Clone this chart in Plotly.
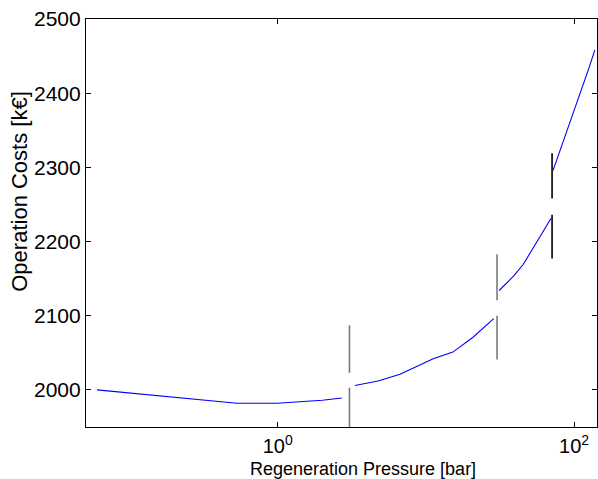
import plotly.graph_objects as go
import math

# Curve segments (pressure in bar, cost in k€) - piecewise with jumps
seg1_x = [0.0604, 0.531, 0.99, 1.42, 2.0, 2.71]
seg1_y = [2000, 1982, 1982, 1984, 1986, 1989]
seg2_x = [3.32, 4.75, 6.69, 11.2, 15.2, 20.8, 28.7]
seg2_y = [2006, 2012, 2021, 2042, 2051, 2071, 2096]
seg3_x = [31.2, 39.3, 45.3, 56.2, 69.8]
seg3_y = [2134, 2154, 2169, 2200, 2231]
seg4_x = [72.1, 76.7, 94, 124, 138]
seg4_y = [2296, 2311, 2360, 2430, 2458]

# Vertical marker lines at jumps: x, (top segment), (bottom segment)
mark_x = [3.05, 30.2, 71.0]
mark_upper = [(2087, 2023), (2183, 2121), (2319, 2258)]
mark_lower = [(2003, 1950), (2100, 2041), (2236, 2177)]
mark_colors = ["#7a7a7a", "#7a7a7a", "#000000"]

x_tickvals = [1, 100]
x_ticktext = ["10<sup>0</sup>", "10<sup>2</sup>"]
y_tickvals = [2000, 2100, 2200, 2300, 2400, 2500]

fig = go.Figure()

for i, xv in enumerate(mark_x):
    for (a, b) in (mark_upper[i], mark_lower[i]):
        fig.add_trace(go.Scatter(x=[xv, xv], y=[a, b], mode="lines",
                                 line=dict(color=mark_colors[i], width=1.6),
                                 showlegend=False, hoverinfo="skip"))

for sx, sy in ((seg1_x, seg1_y), (seg2_x, seg2_y), (seg3_x, seg3_y), (seg4_x, seg4_y)):
    fig.add_trace(go.Scatter(x=sx, y=sy, mode="lines",
                             line=dict(color="#0000ff", width=1.1),
                             showlegend=False))

fig.update_layout(
    width=598, height=479,
    margin=dict(l=86, r=1, t=19, b=52),
    paper_bgcolor="white", plot_bgcolor="white",
    font=dict(family="Liberation Sans, Arial, sans-serif", color="black"),
    xaxis=dict(type="log", range=[math.log10(0.0509), math.log10(142.7)],
               tickvals=x_tickvals, ticktext=x_ticktext,
               ticks="inside", ticklen=5, tickcolor="black",
               showline=True, linecolor="black", linewidth=1.2, mirror="ticks",
               showgrid=False, zeroline=False, ticklabelstandoff=1,
               tickfont=dict(size=20)),
    yaxis=dict(range=[1950, 2500], tickvals=y_tickvals,
               ticks="inside", ticklen=5, tickcolor="black",
               showline=True, linecolor="black", linewidth=1.2, mirror="ticks",
               showgrid=False, zeroline=False,
               tickfont=dict(size=21)),
    annotations=[
        dict(text="Regeneration Pressure [bar]", xref="paper", yref="paper",
             x=0.542, y=-0.102, xanchor="center", yanchor="middle",
             showarrow=False, font=dict(size=18)),
        dict(text="Operation Costs [k€]", xref="paper", yref="paper",
             x=-0.13, y=0.578, xanchor="center", yanchor="middle",
             textangle=-90, showarrow=False, font=dict(size=22)),
    ],
)

fig.write_html("out.html")
